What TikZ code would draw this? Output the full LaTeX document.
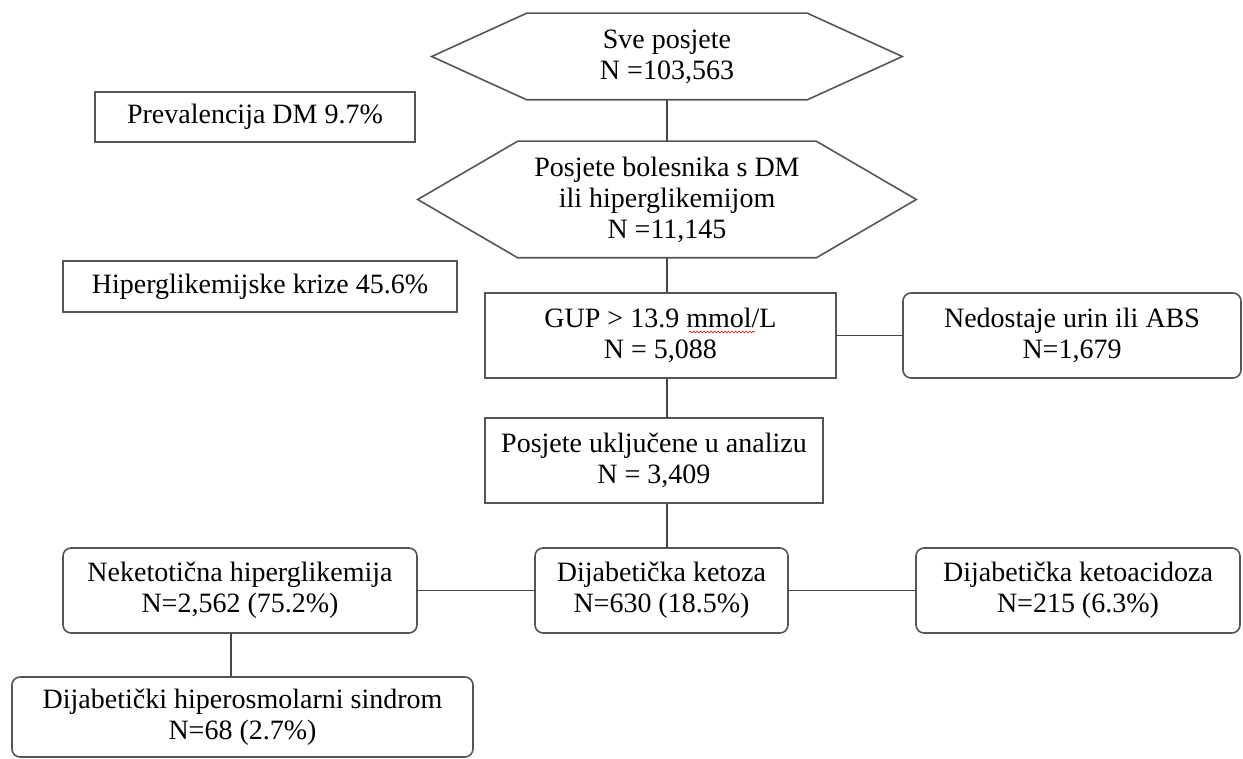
\documentclass[tikz,border=0pt]{standalone}
\usepackage{fontspec}
\setmainfont{Liberation Serif}
\usepackage{xcolor}
\usepackage{tikz}
\usetikzlibrary{calc, decorations.pathmorphing}
\definecolor{boxgray}{RGB}{85,85,85}
\definecolor{linegray}{RGB}{70,70,70}
\newcommand{\HexFrame}[2]{
	\draw[boxgray, line width=1.6pt, line join=miter] (#1.north west) -- (#1.north east) -- ($(#1.east)+(#2,0)$) -- (#1.south east) -- (#1.south west) -- ($(#1.west)+(-#2,0)$) -- cycle;
}

\begin{document}
\begin{tikzpicture}[x=1pt, y=-1pt, line cap=round,
	plainbox/.style={draw=boxgray, line width=1.6pt, fill=white, align=center, inner sep=0pt, font=\fontsize{28}{31}\selectfont},
	roundbox/.style={plainbox, rounded corners=8pt},
	hexcore/.style={plainbox, draw=none, fill=none},
	link/.style={linegray, line width=1.4pt}]

	\useasboundingbox (0,0) rectangle (1243,759);

	% hexagons
	\node[hexcore, minimum width=279pt, minimum height=85pt] (all) at (667,56.5) {Sve posjete\\N =103,563};
	\HexFrame{all}{95}
	\node[hexcore, minimum width=297pt, minimum height=115pt] (dm) at (667,199.5) {Posjete bolesnika s DM\\ili hiperglikemijom\\N =11,145};
	\HexFrame{dm}{100}

	% side notes
	\node[plainbox, minimum width=320pt, minimum height=50pt] (prev) at (255,117) {Prevalencija DM 9.7\%};
	\node[plainbox, minimum width=394pt, minimum height=51pt] (krize) at (260,286.5) {Hiperglikemijske krize 45.6\%};

	% main column
	\node[plainbox, minimum width=351pt, minimum height=85pt] (gup) at (660.5,335.5) {GUP > 13.9 mmol/L\\N = 5,088};
	\node[roundbox, minimum width=338pt, minimum height=85pt] (miss) at (1072,335.5) {Nedostaje urin ili ABS\\N=1,679};
	\node[plainbox, minimum width=338pt, minimum height=85pt] (incl) at (654,460.5) {Posjete uključene u analizu\\N = 3,409};

	% outcomes
	\node[roundbox, minimum width=354pt, minimum height=85pt] (nk) at (240,590.5) {Neketotična hiperglikemija\\N=2,562 (75.2\%)};
	\node[roundbox, minimum width=253pt, minimum height=85pt] (dk) at (661.5,590.5) {Dijabetička ketoza\\N=630 (18.5\%)};
	\node[roundbox, minimum width=324pt, minimum height=85pt] (dka) at (1078,590.5) {Dijabetička ketoacidoza\\N=215 (6.3\%)};
	\node[roundbox, minimum width=461pt, minimum height=80pt] (hs) at (242.5,717) {Dijabetički hiperosmolarni sindrom\\N=68 (2.7\%)};

	\draw[link] (all.south) -- (dm.north);
	\draw[link] (dm.south) -- (dm.south |- gup.north);
	\draw[link] (dm.south |- gup.south) -- (dm.south |- incl.north);
	\draw[link] (dm.south |- incl.south) -- (dm.south |- dk.north);
	\draw[link] (gup.east |- miss.west) -- (miss.west);
	\draw[link] (nk.east) -- (dk.west);
	\draw[link] (dk.east) -- (dka.west);
	\coordinate (nkfoot) at ($(nk.south)+(-9,0)$);
	\draw[link] (nkfoot) -- (nkfoot |- hs.north);

	% spell check squiggle
	\draw[red!80!black, line width=0.6pt, decorate, decoration={snake, amplitude=0.9pt, segment length=3.5pt}] ($(gup.center)+(28.5,-3.5)$) -- ($(gup.center)+(94.5,-3.5)$);

\end{tikzpicture}
\end{document}
